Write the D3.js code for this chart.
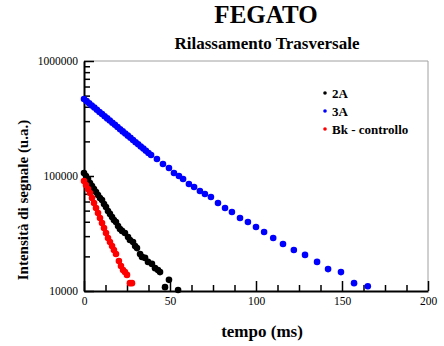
<!DOCTYPE html>
<html>
<head>
<meta charset="utf-8">
<script src="https://cdn.jsdelivr.net/npm/d3@7"></script>
<style>
  html, body { margin: 0; padding: 0; background: #fff; }
  svg { display: block; }
  text { font-family: "Liberation Serif", "Times New Roman", serif; }
</style>
</head>
<body>
<svg id="chart" width="444" height="346"></svg>
<script>
// Echo times (ms) and signal intensities (u.a.) for each sample
const time2A = [0, 1.16, 2.33, 3.49, 4.65, 5.81, 6.98, 8.14, 9.3, 10.47, 11.63, 12.79, 13.95, 15.1, 16.3, 17.4, 18.6, 19.8, 20.9, 22.1, 23.8, 25.6, 26.7, 28.5, 29.7, 30.8, 32.6, 33.7, 35.5, 37.2, 39.5, 41.3, 43, 44.2, 47.1, 49.4, 54.7];
const signal2A = [106200, 100000, 94200, 86900, 81800, 77100, 72600, 68400, 64400, 61800, 57100, 53700, 49600, 46800, 44000, 41400, 39800, 36700, 34600, 33300, 31900, 29500, 27800, 26700, 24600, 23600, 21000, 19800, 19400, 17900, 17200, 15800, 15200, 14600, 10800, 12500, 10200];

const time3A = [0, 1.5, 3, 4.5, 6, 7.5, 9, 10.5, 12, 13.5, 15, 16.5, 18, 19.5, 21, 22.5, 24, 25.5, 27, 28.5, 30, 31.5, 33, 34.5, 36, 37.5, 39, 42.4, 45.9, 49.4, 52.3, 55.2, 57.6, 61, 64, 67.4, 70.3, 73.8, 77.9, 82, 86, 90.7, 95.3, 100, 104.7, 110, 115.7, 122, 128.5, 135.5, 141.9, 149.4, 157, 165];
const signal3A = [467700, 447700, 428500, 410800, 393600, 376700, 360600, 345900, 331100, 317000, 303400, 290400, 278600, 266700, 255300, 244300, 234400, 224400, 214800, 205600, 196800, 188800, 180700, 173000, 165600, 158500, 152400, 140600, 127000, 117500, 106200, 100000, 94200, 85100, 80200, 74100, 69700, 65600, 58200, 52700, 48600, 43100, 39800, 36000, 32600, 28900, 25600, 22700, 20600, 17900, 15500, 14600, 11700, 11000];

const timeBk = [0, 1.16, 2.33, 3.49, 4.65, 5.81, 6.98, 8.14, 9.3, 10.47, 11.63, 12.79, 13.95, 15.1, 16.3, 17.4, 18.6, 20.3, 21.5, 22.7, 23.8, 25, 26.7, 27.9];
const signalBk = [90600, 83600, 77100, 71100, 64400, 58200, 52700, 47700, 43100, 39000, 35300, 31900, 28900, 26700, 24600, 22700, 21000, 18200, 16500, 15200, 14600, 13800, 11700, 11700];

const seriesNames = ["2A", "3A", "Bk - controllo"];
const seriesColors = ["#000000", "#0000ff", "#ff0000"];

const xTickValues = [0, 50, 100, 150, 200];
const yTickValues = [10000, 100000, 1000000];

const chartTitle = "FEGATO";
const chartSubtitle = "Rilassamento Trasversale";
const xTitle = "tempo (ms)";
const yTitle = "Intensità di segnale (u.a.)";

const series = [
  { name: seriesNames[0], color: seriesColors[0], t: time2A, v: signal2A },
  { name: seriesNames[1], color: seriesColors[1], t: time3A, v: signal3A },
  { name: seriesNames[2], color: seriesColors[2], t: timeBk, v: signalBk }
];

const svg = d3.select("#chart");
const plot = { left: 84, right: 428, top: 61, bottom: 291 };

const x = d3.scaleLinear().domain([0, 200]).range([plot.left, plot.right]);
const y = d3.scaleLog().domain([10000, 1000000]).range([plot.bottom, plot.top]);

// Titles
svg.append("text")
  .attr("x", 266).attr("y", 23)
  .attr("text-anchor", "middle")
  .attr("font-size", 25).attr("font-weight", "bold")
  .text(chartTitle);

svg.append("text")
  .attr("x", 267).attr("y", 49)
  .attr("text-anchor", "middle")
  .attr("font-size", 17).attr("font-weight", "bold")
  .text(chartSubtitle);

// Light frame on top and right
svg.append("line")
  .attr("x1", plot.left).attr("x2", plot.right)
  .attr("y1", plot.top).attr("y2", plot.top)
  .attr("stroke", "#a0a0a0").attr("stroke-width", 1);
svg.append("line")
  .attr("x1", plot.right).attr("x2", plot.right)
  .attr("y1", plot.top).attr("y2", plot.bottom)
  .attr("stroke", "#a0a0a0").attr("stroke-width", 1);

// Minor ticks
const yMinor = [];
[10000, 100000].forEach(d => { for (let k = 2; k <= 9; k++) yMinor.push(d * k); });
const xMinor = d3.range(0, 201, 12.5).filter(v => !xTickValues.includes(v));

svg.append("g")
  .attr("transform", `translate(${plot.left},0)`)
  .call(d3.axisLeft(y).tickValues(yMinor).tickFormat("").tickSizeInner(-6).tickSizeOuter(0))
  .call(g => g.select(".domain").remove())
  .call(g => g.selectAll("line").attr("stroke", "#000").attr("stroke-width", 1.5));

svg.append("g")
  .attr("transform", `translate(0,${plot.bottom})`)
  .call(d3.axisBottom(x).tickValues(xMinor).tickFormat("").tickSizeInner(-6).tickSizeOuter(0))
  .call(g => g.select(".domain").remove())
  .call(g => g.selectAll("line").attr("stroke", "#000").attr("stroke-width", 1.5));

// Major axes
const yAxis = svg.append("g")
  .attr("transform", `translate(${plot.left},0)`)
  .call(d3.axisLeft(y).tickValues(yTickValues).tickFormat(d3.format("d")).tickSizeInner(-10).tickSizeOuter(0).tickPadding(6));
yAxis.select(".domain").attr("stroke", "#000").attr("stroke-width", 2);
yAxis.selectAll("line").attr("stroke", "#000").attr("stroke-width", 1.5);
yAxis.selectAll("text")
  .attr("font-family", "'Liberation Serif', serif")
  .attr("font-size", 11.5).attr("fill", "#000");

const xAxis = svg.append("g")
  .attr("transform", `translate(0,${plot.bottom})`)
  .call(d3.axisBottom(x).tickValues(xTickValues).tickSizeInner(-10).tickSizeOuter(0).tickPadding(6));
xAxis.select(".domain").attr("stroke", "#000").attr("stroke-width", 2);
xAxis.selectAll("line").attr("stroke", "#000").attr("stroke-width", 1.5);
xAxis.selectAll("text")
  .attr("font-family", "'Liberation Serif', serif")
  .attr("font-size", 11.5).attr("fill", "#000");

// Axis titles
svg.append("text")
  .attr("x", 262).attr("y", 337)
  .attr("text-anchor", "middle")
  .attr("font-size", 17).attr("font-weight", "bold")
  .text(xTitle);

svg.append("text")
  .attr("transform", "translate(28,200) rotate(-90)")
  .attr("text-anchor", "middle")
  .attr("font-size", 15).attr("font-weight", "bold")
  .text(yTitle);

// Data points
series.forEach(s => {
  svg.append("g")
    .selectAll("circle")
    .data(s.t.map((t, i) => ({ t, v: s.v[i] })))
    .join("circle")
    .attr("cx", d => x(d.t))
    .attr("cy", d => y(d.v))
    .attr("r", 3.3)
    .attr("fill", s.color);
});

// Legend
const legend = svg.append("g");
series.forEach((s, i) => {
  const ly = 93 + i * 18;
  legend.append("circle")
    .attr("cx", 325).attr("cy", ly)
    .attr("r", 1.8).attr("fill", s.color);
  legend.append("text")
    .attr("x", 332).attr("y", ly + 4.5)
    .attr("font-size", 13).attr("font-weight", "bold")
    .text(s.name);
});
</script>
</body>
</html>
